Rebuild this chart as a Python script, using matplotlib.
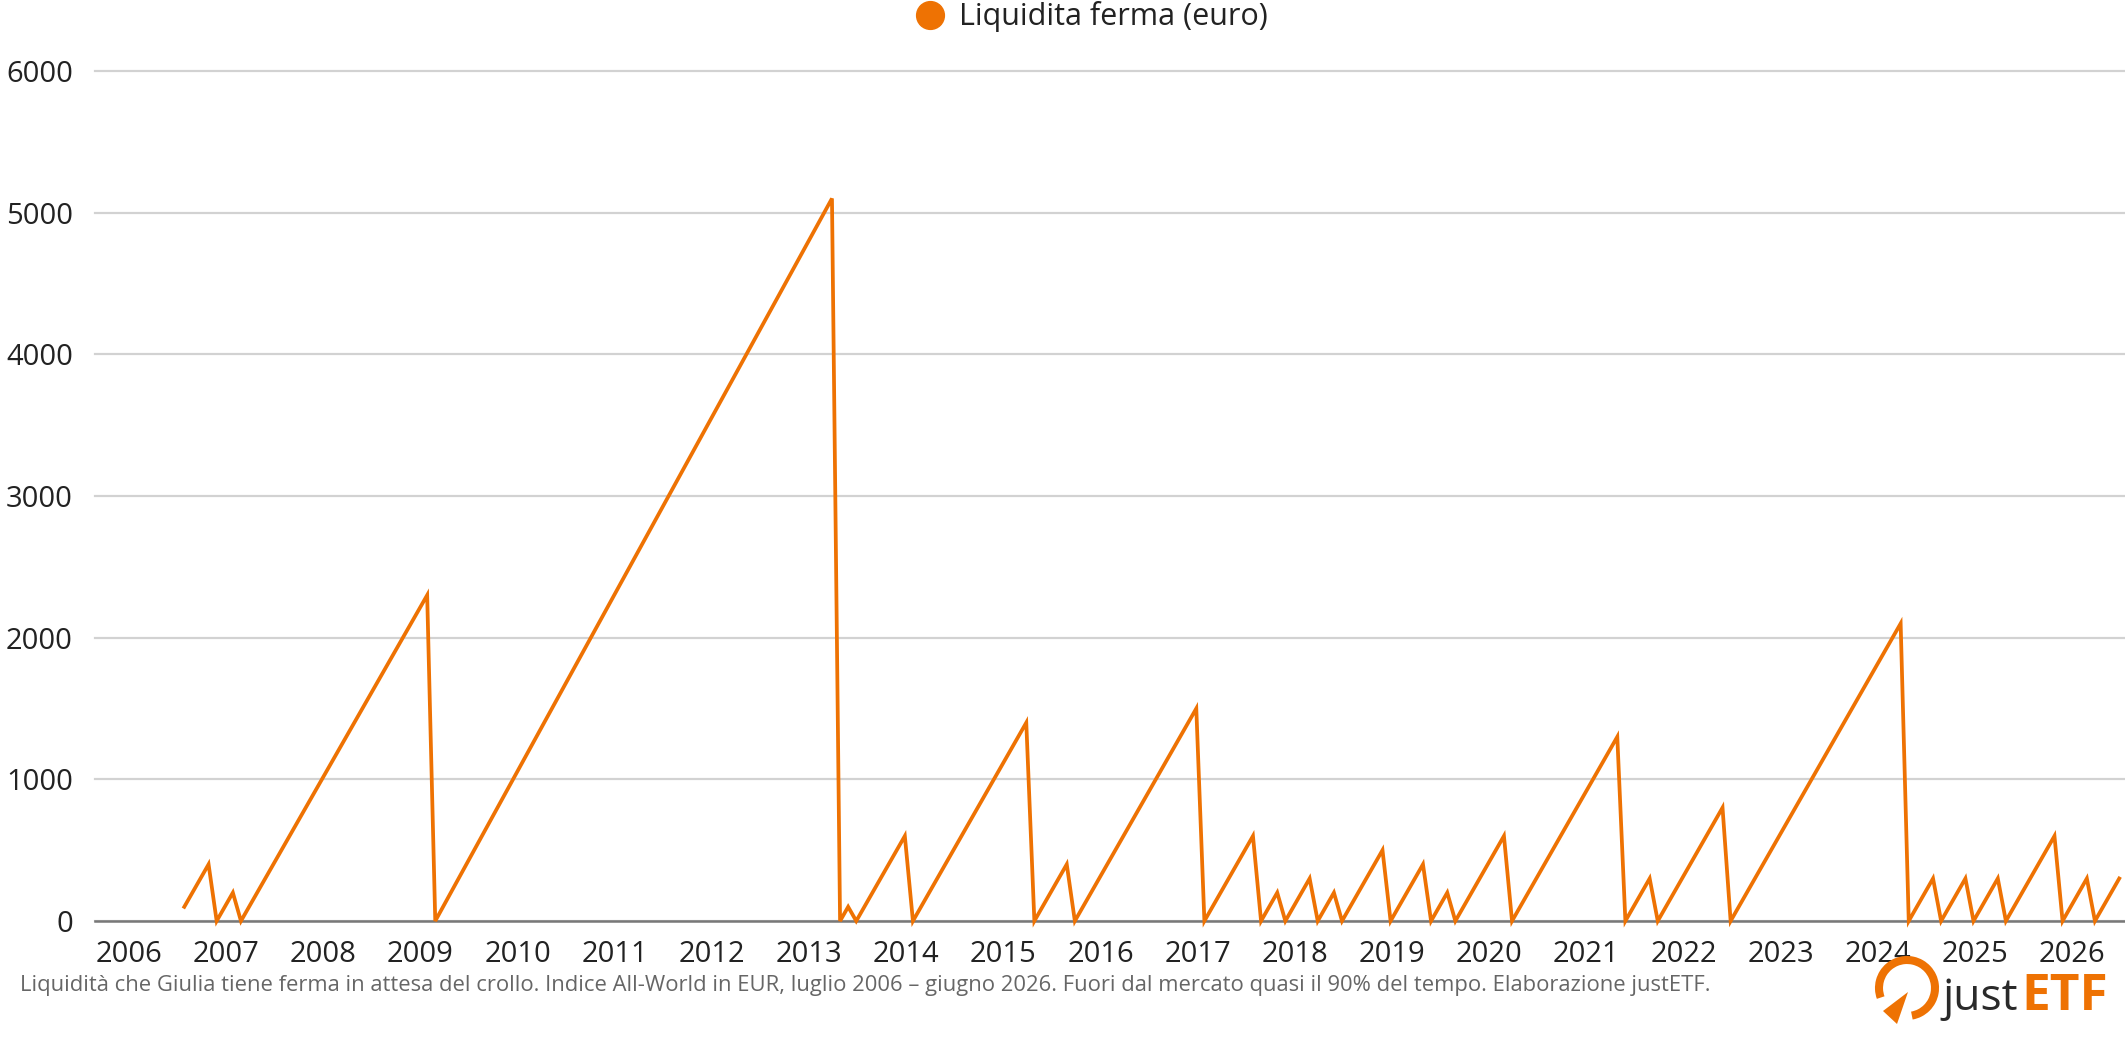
import matplotlib
matplotlib.use('Agg')
import matplotlib.pyplot as plt
from matplotlib.lines import Line2D
from matplotlib.patches import Arc, Polygon

# ---------------- data (vertices of the sawtooth, month -> euro) ----------------
dates = ["2006-07", "2006-10", "2006-11", "2007-01", "2007-02", "2009-01", "2009-02",
         "2013-03", "2013-04", "2013-05", "2013-06", "2013-12", "2014-01", "2015-03",
         "2015-04", "2015-08", "2015-09", "2016-12", "2017-01", "2017-07", "2017-08",
         "2017-10", "2017-11", "2018-02", "2018-03", "2018-05", "2018-06", "2018-11",
         "2018-12", "2019-04", "2019-05", "2019-07", "2019-08", "2020-02", "2020-03",
         "2021-04", "2021-05", "2021-08", "2021-09", "2022-05", "2022-06", "2024-03",
         "2024-04", "2024-07", "2024-08", "2024-11", "2024-12", "2025-03", "2025-04",
         "2025-10", "2025-11", "2026-02", "2026-03", "2026-06"]
values = [100, 400, 0, 200, 0, 2300, 0,
          5100, 0, 100, 0, 600, 0, 1400,
          0, 400, 0, 1500, 0, 600, 0,
          200, 0, 300, 0, 200, 0, 500,
          0, 400, 0, 200, 0, 600, 0,
          1300, 0, 300, 0, 800, 0, 2100,
          0, 300, 0, 300, 0, 300, 0,
          600, 0, 300, 0, 300]
year_ticks = list(range(2006, 2027))
y_ticks = [0, 1000, 2000, 3000, 4000, 5000, 6000]
series_label = "Liquidita ferma (euro)"
caption = ("Liquidità che Giulia tiene ferma in attesa del crollo. Indice All-World in EUR, "
           "luglio 2006 – giugno 2026. Fuori dal mercato quasi il 90% del tempo. Elaborazione justETF.")

# ---------------- style ----------------
ORANGE = '#EE7203'
FONT = ['Open Sans', 'DejaVu Sans']
plt.rcParams['font.family'] = FONT

W, H = 2125, 1063
fig = plt.figure(figsize=(W / 100, H / 100), dpi=100)
fig.patch.set_facecolor('white')
ax = fig.add_axes([95 / W, 1 - 921 / H, (W - 95) / W, (921 - 71) / H])


def to_x(d):
    y, m = map(int, d.split('-'))
    return y + (m - 1) / 12 + 0.069


xs = [to_x(d) for d in dates]
ax.plot(xs, values, color=ORANGE, lw=2.7, solid_joinstyle='miter', clip_on=False, zorder=3)

ax.set_xlim(2005.65, 2026.545)
ax.set_ylim(0, 6000)
ax.set_xticks(year_ticks)
ax.set_xticklabels([str(y) for y in year_ticks])
ax.set_yticks(y_ticks)
ax.set_yticklabels([str(v) for v in y_ticks])
ax.tick_params(axis='both', length=0, labelsize=21, labelcolor='#222222')
ax.tick_params(axis='y', pad=16)
ax.tick_params(axis='x', pad=14)

ax.yaxis.grid(True, color='#d2d2d2', lw=1.6)
for gl in ax.get_ygridlines():
    gl.set_clip_on(False)
ax.set_axisbelow(True)
for s in ['top', 'right', 'left']:
    ax.spines[s].set_visible(False)
ax.spines['bottom'].set_color('#787878')
ax.spines['bottom'].set_linewidth(1.8)
ax.spines['bottom'].set_zorder(2)

# legend
handle = Line2D([], [], marker='o', ls='', color=ORANGE, markersize=20)
fig.legend([handle], [series_label], loc='center', bbox_to_anchor=(1091 / W, 1 - 17 / H),
           frameon=False, fontsize=22, handletextpad=0.45, handlelength=1.0,
           labelcolor='#222222', borderaxespad=0, borderpad=0)

# caption
fig.text(20 / W, 1 - 985 / H, caption, fontsize=15.8, color='#666666', va='center', ha='left')

# logo
lax = fig.add_axes([1870 / W, 1 - 1035 / H, 255 / W, 80 / H])
lax.set_xlim(0, 255)
lax.set_ylim(0, 80)
lax.axis('off')
lax.add_patch(Arc((37, 47), 56, 56, theta1=-80, theta2=200, lw=5.8, color=ORANGE))
lax.add_patch(Polygon([[38, 43], [13, 24], [27, 11]], closed=True, color=ORANGE, lw=0))
lax.text(148, 25, "just", fontsize=32, color='#2a2a2a', va='baseline', ha='right')
lax.text(151, 25, "ETF", fontsize=37, color=ORANGE, va='baseline', ha='left', fontweight='bold')

fig.savefig('out.png', dpi=100, facecolor='white')
